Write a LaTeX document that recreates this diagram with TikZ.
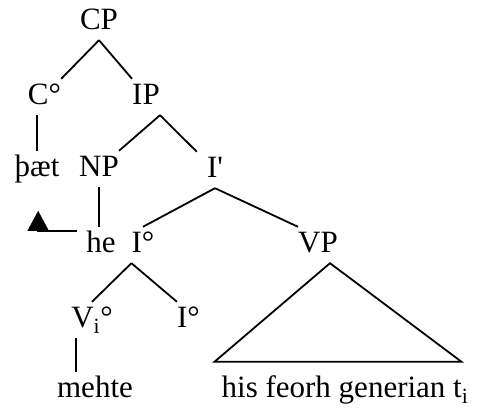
\documentclass[tikz,border=0pt]{standalone}
\usepackage{fontspec}
\setmainfont{Liberation Serif}
\usepackage{tikz}
\usetikzlibrary{positioning,arrows.meta}
\tikzset{
  cat/.style={anchor=base, inner xsep=0pt, inner ysep=3pt, text height=23pt, text depth=7pt,
              font=\fontsize{31pt}{37pt}\selectfont},
  leaf/.style={cat, text depth=5pt},
  branch/.style={line width=1.8pt},
  movement/.style={branch, -{Triangle[width=21pt,length=20pt]}}, % tip stands on the line
}

\begin{document}
\begin{tikzpicture}[x=1pt, y=1pt]
  \useasboundingbox (0,0) rectangle (477,409);

  \node[cat] (cp) at (99,379) {CP};
  \node[cat] (c) at (44.5,304) {C°};
  \node[cat] (ip) at (146,304) {IP};
  \node[cat] (thaet) at (37,232) {þæt};
  \node[cat] (np) at (99,232) {NP};
  \node[cat] (ibar) at (215,231) {I\textquotesingle};
  \node[cat] (he) at (101,156) {he};
  \node[cat] (infl) at (143,156) {I°};
  \node[cat] (vp) at (318,156) {VP};
  \node[cat] (vi) at (92,81) {V\textsubscript{i}°};
  \node[cat] (ilow) at (188.5,81) {I°};
  \node[leaf] (mehte) at (95,11) {mehte};
  \node[leaf] (gen) at (345,11) {his feorh generian t\textsubscript{i}};

  \draw[branch] (cp.south) -- (c.north east);
  \draw[branch] (cp.south) -- (ip.north west);
  \draw[branch] (c.south -| thaet) -- (thaet.north);
  \draw[branch] (ip.south east) -- (np.north east);
  \draw[branch] (ip.south east) -- ([xshift=-10pt]ibar.north west);
  \draw[branch] (np.south) -- (np.south |- he.north);
  \draw[branch] (ibar.south) -- (infl.north);
  \draw[branch] (ibar.south) -- (vp.north west);
  \draw[branch] (infl.south west) -- (vi.north);
  \draw[branch] (infl.south west) -- (ilow.north west);
  \draw[branch] ([xshift=5pt]vi.south west) -- ([xshift=5pt]vi.south west |- mehte.north);

  % roof over the VP
  \draw[branch] ([xshift=12pt]vp.south) -- ([shift={(-7pt,10pt)}]gen.north west)
    -- ([shift={(-7pt,10pt)}]gen.north east) -- cycle;

  \coordinate[below left=4pt and 48pt of he.north west] (gap);
  \draw[movement, shorten <=9pt] (he.west |- gap) -- (gap) -- ++(0,20pt);
\end{tikzpicture}
\end{document}
